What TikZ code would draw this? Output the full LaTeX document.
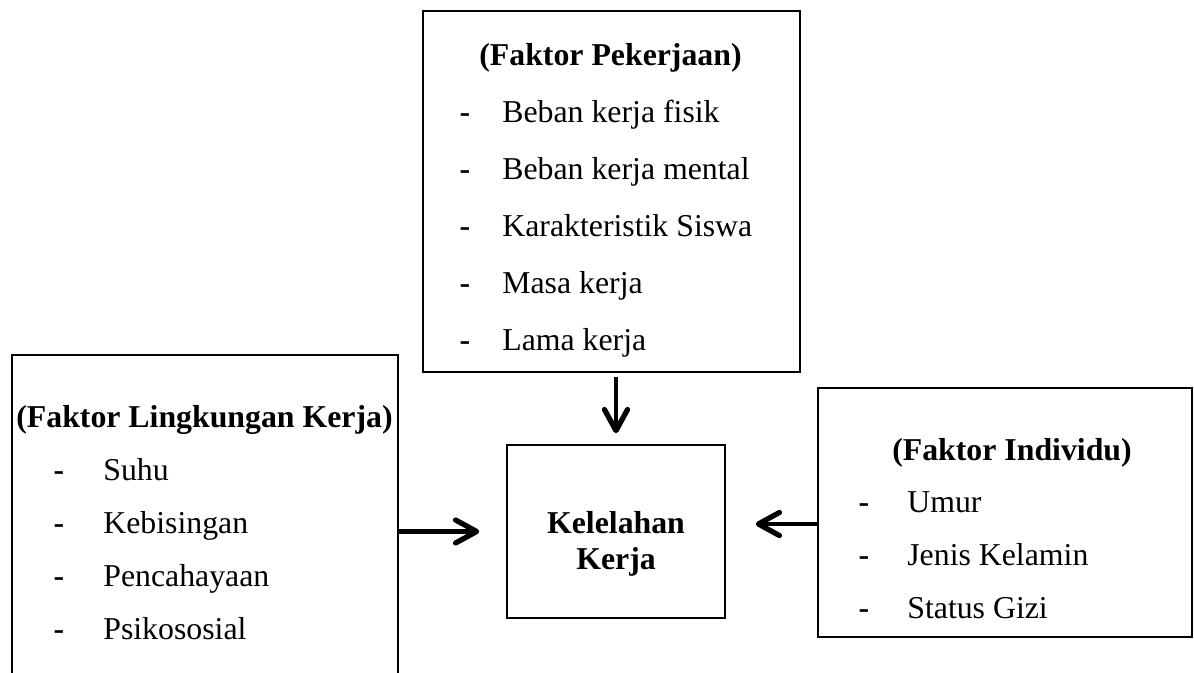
\documentclass[tikz,border=0pt]{standalone}
\usepackage{fontspec}
\setmainfont{Liberation Serif}
\usepackage{tikz}
\usetikzlibrary{calc,arrows.meta}

\tikzset{
  kotak/.style={draw, line width=0.9pt, inner sep=0pt},
  panah/.style={line width=2.8pt, -{Straight Barb[length=0.42cm, width=0.46cm, line width=3pt, line cap=round, line join=round]}},
  butir/.style={anchor=base west, inner sep=0pt},
  strip/.style={anchor=base, inner sep=0pt, font=\fontsize{18.1}{20.4}\selectfont\bfseries},
  judul/.style={anchor=base, inner sep=0pt, font=\fontsize{18.1}{20.4}\selectfont\bfseries}
}

\begin{document}
\begin{tikzpicture}[x=0.02cm, y=-0.02cm, font=\fontsize{18.1}{20.4}\selectfont]
    \useasboundingbox (0,0) rectangle (1194,673);
    % kotak
    \node[kotak, minimum width=7.54cm, minimum height=7.22cm] (pekerjaan) at (611.5,191.5) {};
    \node[kotak, minimum width=4.36cm, minimum height=3.46cm] (kelelahan) at (616,531.5) {};
    \node[kotak, minimum width=7.48cm, minimum height=4.98cm] (individu) at (1005,512.5) {};
    \node[kotak, draw=none, minimum width=7.68cm, minimum height=6.88cm] (lingkungan) at (205,528) {};
    \draw[line width=0.9pt] (lingkungan.south west) -- (lingkungan.north west)
        -- (lingkungan.north east) -- (lingkungan.south east);

    % isi
    \node[judul] (jpekerjaan) at (610.5,65) {(Faktor Pekerjaan)};
    \foreach \t [count=\i] in {Beban kerja fisik, Beban kerja mental, Karakteristik Siswa, Masa kerja, Lama kerja}
    {
        \node[strip] (sp\i) at (465,{65+57*\i}) {-};
        \node[butir] (bp\i) at (502,{65+57*\i}) {\t};
    }
    \node[judul] (jlingkungan) at (204.5,427) {(Faktor Lingkungan Kerja)};
    \foreach \t [count=\i] in {Suhu, Kebisingan, Pencahayaan, Psikososial}
    {
        \node[strip] (sl\i) at (59,{427+53.2*\i}) {-};
        \node[butir] (bl\i) at (103,{427+53.2*\i}) {\t};
    }
    \node[judul] (jindividu) at (1012,460) {(Faktor Individu)};
    \foreach \t [count=\i] in {Umur, Jenis Kelamin, Status Gizi}
    {
        \node[strip] (si\i) at (864,{460+52.7*\i}) {-};
        \node[butir] (bi\i) at (907,{460+52.7*\i}) {\t};
    }
    \node[font=\fontsize{18.1}{20.4}\selectfont\bfseries, align=center, inner sep=0pt] (tkelelahan) at (616,544) {Kelelahan\\Kerja};

    % panah
    \draw[panah, shorten <=0.08cm, shorten >=0.22cm] (kelelahan.north |- pekerjaan.south) -- (kelelahan.north);
    \draw[panah, shorten >=0.54cm] (lingkungan.east |- kelelahan.west) -- (kelelahan.west);
    \draw[panah, shorten >=0.6cm, transform canvas={yshift=0.15cm}] (individu.west |- kelelahan.east) -- (kelelahan.east);
\end{tikzpicture}
\end{document}
